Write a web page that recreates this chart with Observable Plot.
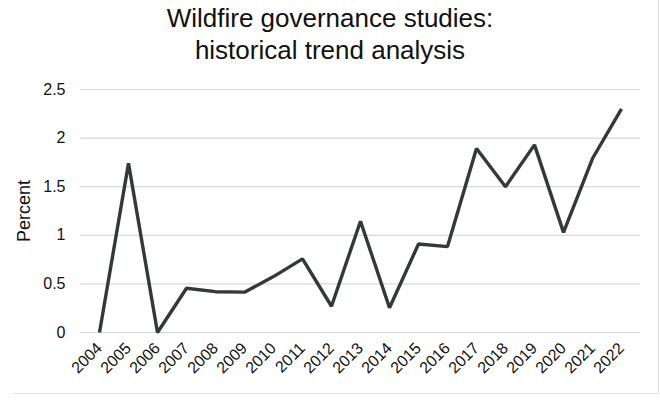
<!DOCTYPE html>
<html>
<head>
<meta charset="utf-8">
<script src="https://cdn.jsdelivr.net/npm/d3@7"></script>
<script src="https://cdn.jsdelivr.net/npm/@observablehq/plot@0.6"></script>
<style>
  html, body { margin: 0; padding: 0; background: #fff; }
  body { width: 660px; height: 402px; position: relative; overflow: hidden; font-family: "Liberation Sans", Arial, sans-serif; }
  #frame { position: absolute; left: 13px; top: 0; width: 645px; height: 393px; border-right: 1px solid #e2e2e2; border-bottom: 1px solid #e2e2e2; }
  #title { position: absolute; left: 0; top: 2px; width: 660px; text-align: center; font-size: 26px; line-height: 32px; color: #111; }
  #chart { position: absolute; left: 0; top: 70px; }
</style>
</head>
<body>
<div id="frame"></div>
<div id="title">Wildfire governance studies:<br>historical trend analysis</div>
<div id="chart"></div>
<script>
const years = ["2004","2005","2006","2007","2008","2009","2010","2011","2012","2013","2014","2015","2016","2017","2018","2019","2020","2021","2022"];
const percent = [0, 1.74, 0, 0.455, 0.42, 0.415, 0.575, 0.757, 0.27, 1.145, 0.254, 0.91, 0.884, 1.894, 1.50, 1.93, 1.03, 1.79, 2.30];
const yTicks = [0, 0.5, 1, 1.5, 2, 2.5];
const yTickLabels = ["0", "0.5", "1", "1.5", "2", "2.5"];

const data = years.map((y, i) => ({year: y, value: percent[i]}));

const chart = Plot.plot({
  width: 660,
  height: 332,
  marginTop: 19,
  marginBottom: 70,
  marginLeft: 80,
  marginRight: 20,
  style: { fontFamily: "'Liberation Sans', Arial, sans-serif", fontSize: "16px", color: "#111", background: "transparent" },
  x: { type: "point", domain: years, padding: 0.5, label: null },
  y: { domain: [0, 2.5], label: null },
  marks: [
    Plot.gridY(yTicks, { stroke: "#d9d9d9", strokeOpacity: 1, strokeWidth: 1.2 }),
    Plot.axisY(yTicks, { tickSize: 0, tickPadding: 15, tickFormat: (d) => yTickLabels[yTicks.indexOf(d)], fontSize: 16, label: null }),
    Plot.axisX(years, { tickSize: 0, tickPadding: 13, tickRotate: -45, fontSize: 16, label: null }),
    Plot.line(data, { x: "year", y: "value", stroke: "#323a37", strokeWidth: 3.4, strokeLinejoin: "miter", strokeLinecap: "butt" }),
    Plot.text(["Percent"], { frameAnchor: "left", textAnchor: "middle", dx: -56, rotate: -90, fontSize: 18, fill: "#111" })
  ]
});
document.getElementById("chart").appendChild(chart);
</script>
</body>
</html>
